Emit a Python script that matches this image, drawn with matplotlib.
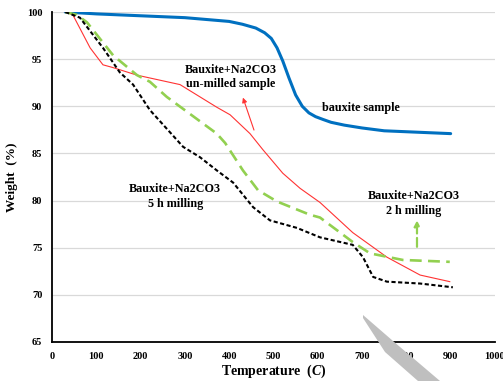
import numpy as np
import matplotlib
matplotlib.use("Agg")
import matplotlib.pyplot as plt
from matplotlib.patches import Polygon

plt.rcParams['font.family'] = ['Liberation Serif', 'DejaVu Serif']
plt.rcParams['font.weight'] = 'bold'
plt.rcParams['mathtext.fontset'] = 'custom'
plt.rcParams['mathtext.it'] = 'Liberation Serif:italic:bold'
plt.rcParams['mathtext.rm'] = 'Liberation Serif:bold'

# TGA curves, temperature (C) vs weight (%)
blue_T = [30, 100, 200, 300, 400, 430, 460, 480, 495, 508, 521, 535, 550, 565, 580, 595, 612, 630, 660, 700, 750, 800, 900]
blue_w = [100, 99.8, 99.6, 99.4, 99.0, 98.7, 98.3, 97.8, 97.2, 96.2, 94.8, 93.0, 91.2, 90.0, 89.3, 88.9, 88.6, 88.3, 88.0, 87.7, 87.4, 87.3, 87.1]

red_T = [30, 47, 86, 115, 138, 192, 289, 372, 402, 447, 476, 521, 560, 605, 679, 756, 831, 898]
red_w = [100, 99.7, 96.2, 94.4, 94.1, 93.3, 92.3, 89.9, 89.1, 87.1, 85.4, 82.9, 81.3, 79.8, 76.6, 74.0, 72.1, 71.4]

green_T = [30, 56, 79, 138, 192, 221, 259, 372, 391, 431, 465, 508, 582, 605, 679, 718, 792, 898]
green_w = [100, 99.7, 98.9, 95.4, 93.3, 92.6, 91.0, 87.1, 86.1, 83.2, 81.1, 79.9, 78.5, 78.2, 75.6, 74.4, 73.7, 73.5]

black_T = [30, 63, 115, 153, 183, 221, 296, 334, 372, 409, 454, 492, 553, 605, 679, 702, 725, 756, 831, 905]
black_w = [100, 99.4, 96.2, 93.6, 92.3, 89.6, 85.7, 84.6, 83.2, 81.9, 79.3, 77.9, 77.1, 76.1, 75.3, 74.0, 71.9, 71.4, 71.2, 70.8]

xticks = list(range(0, 1001, 100))
yticks = list(range(65, 101, 5))

fig = plt.figure(figsize=(5.03, 3.81), dpi=100)
ax = fig.add_axes([0.1034, 0.1024, 0.8806, 0.8661])

ax.plot(blue_T, blue_w, color='#0070C0', lw=2.2, solid_capstyle='round')
ax.plot(red_T, red_w, color='#FF3333', lw=0.8)
ax.plot(green_T, green_w, color='#92D050', lw=1.9, dashes=(4.5, 2.4))
ax.plot(black_T, black_w, color='black', lw=1.5, dashes=(2, 1.2))

ax.set_xlim(0, 1000)
ax.set_ylim(65, 100)
ax.set_xticks(xticks)
ax.set_yticks(yticks)
ax.tick_params(length=0, labelsize=7.5, pad=7)
for lab in ax.get_xticklabels() + ax.get_yticklabels():
    lab.set_fontweight('bold')
ax.grid(axis='y', color='#d9d9d9', lw=0.9)
ax.set_axisbelow(True)
for s in ['top', 'right']:
    ax.spines[s].set_visible(False)
ax.spines['left'].set_linewidth(1.3)
ax.spines['bottom'].set_linewidth(1.3)

ax.set_ylabel('Weight  (%)', fontsize=9.5, fontweight='bold')
ax.yaxis.set_label_coords(-0.077, 0.5)
ax.set_xlabel(r'Temperature  $\mathit{(C)}$', fontsize=10, fontweight='bold', va='center')
ax.xaxis.set_label_coords(0.5, -0.09)

ax.text(404, 93.1, 'Bauxite+Na2CO3\nun-milled sample', ha='center', va='center',
        fontsize=8.7, fontweight='bold', linespacing=1.3)
ax.text(697, 89.8, 'bauxite sample', ha='center', va='center', fontsize=8.7, fontweight='bold')
ax.text(278, 80.4, 'Bauxite+Na2CO3\n5 h milling', ha='center', va='center',
        fontsize=8.7, fontweight='bold', linespacing=1.3)
ax.text(817, 79.7, 'Bauxite+Na2CO3\n2 h milling', ha='center', va='center',
        fontsize=8.7, fontweight='bold', linespacing=1.3)

ax.annotate('', xy=(429, 91.2), xytext=(458, 87.2),
            arrowprops=dict(arrowstyle='-|>', color='#FF3333', lw=0.8, mutation_scale=7))
ax.annotate('', xy=(824, 78.2), xytext=(824, 74.8),
            arrowprops=dict(arrowstyle='-|>', color='#92D050', lw=1.6, mutation_scale=8,
                            linestyle=(0, (4, 2))))

# grey smudge at the bottom right of the scan
shape = Polygon([(363 / 503, 1 - 315 / 381), (393 / 503, 1 - 341 / 381), (440 / 503, 0),
                 (418 / 503, 0), (385 / 503, 1 - 352 / 381), (363 / 503, 1 - 318 / 381)],
                closed=True, transform=fig.transFigure, color='#bfbfbf', lw=0, zorder=5)
fig.patches.append(shape)

fig.savefig('out.png', dpi=100)
